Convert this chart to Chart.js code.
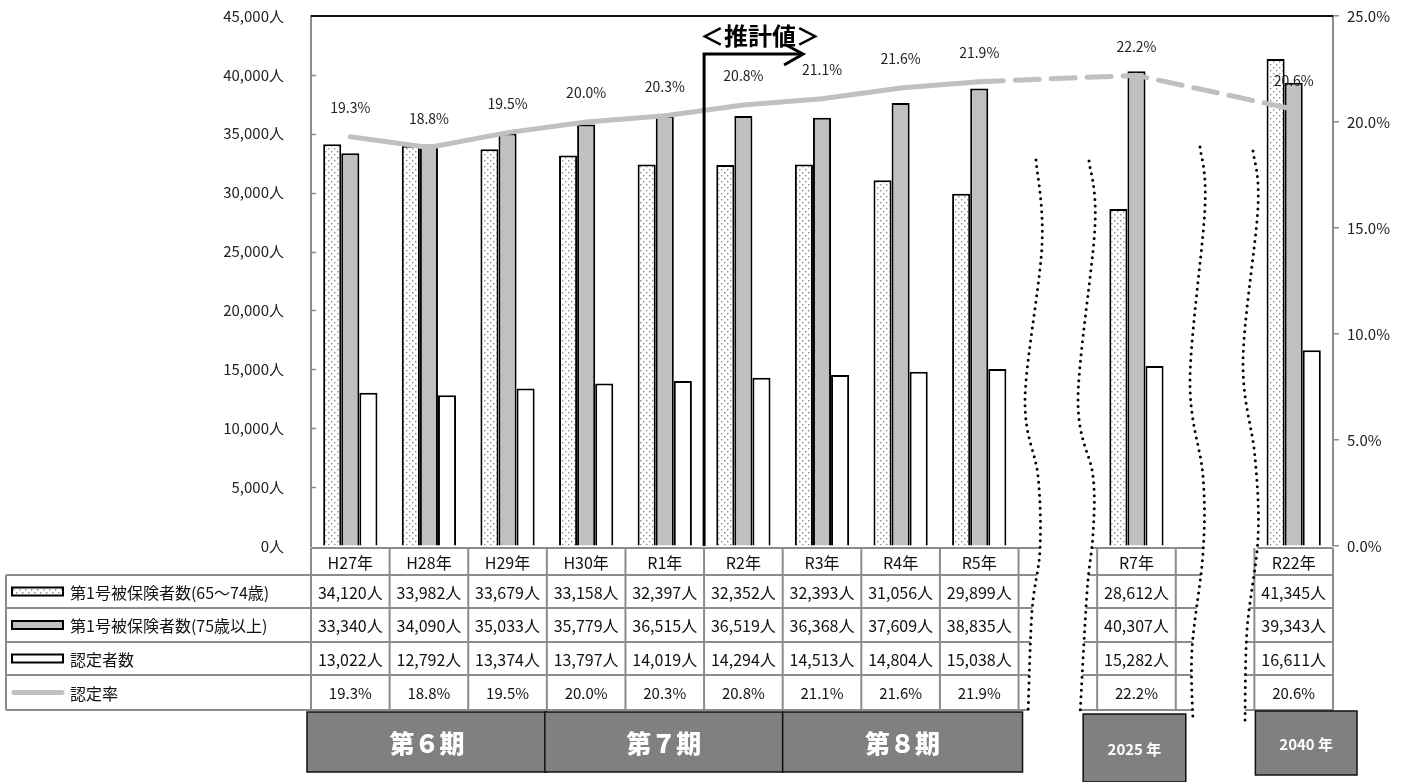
<!DOCTYPE html>
<html lang="ja">
<head>
<meta charset="utf-8">
<title>第1号被保険者数・認定者数・認定率の推移</title>
<script src="https://cdn.jsdelivr.net/npm/chart.js@4.4.1/dist/chart.umd.min.js"></script>
<style>
  html, body { margin: 0; padding: 0; background: #fff; }
  #wrap { width: 1403px; height: 782px; position: relative; }
</style>
</head>
<body>
<div id="wrap"><canvas id="kaigoChart"></canvas></div>
<script>
// data
const categories = ['H27年', 'H28年', 'H29年', 'H30年', 'R1年', 'R2年', 'R3年', 'R4年', 'R5年', '', 'R7年', '', 'R22年'];
const seriesNames = ['第1号被保険者数(65～74歳)', '第1号被保険者数(75歳以上)', '認定者数', '認定率'];
const age65to74 = [34120, 33982, 33679, 33158, 32397, 32352, 32393, 31056, 29899, null, 28612, null, 41345];
const age75plus = [33340, 34090, 35033, 35779, 36515, 36519, 36368, 37609, 38835, null, 40307, null, 39343];
const certified = [13022, 12792, 13374, 13797, 14019, 14294, 14513, 14804, 15038, null, 15282, null, 16611];
const certRate = [19.3, 18.8, 19.5, 20.0, 20.3, 20.8, 21.1, 21.6, 21.9, null, 22.2, null, 20.6];
const leftMax = 45000, leftStep = 5000;
const rightMax = 25, rightStep = 5;
const periodLabels = ['第６期', '第７期', '第８期', '2025 年', '2040 年'];
const periodFrom = [0, 3, 6, 10, 12];
const periodTo = [3, 6, 9, 11, 13];
const estimateLabel = '＜推計値＞';
const estimateFrom = 5; // first estimated category (R2)

const JP = '"Noto Sans CJK JP", "Noto Sans", sans-serif';
const GRID = '#8c8c8c';

// dotted fill for the 65-74 bars
const dotPattern = (() => {
  const c = document.createElement('canvas');
  c.width = 6; c.height = 6;
  const g = c.getContext('2d');
  g.fillStyle = '#fff';
  g.fillRect(0, 0, 6, 6);
  g.fillStyle = '#8a8a8a';
  g.fillRect(1, 1, 1.4, 1.4);
  g.fillRect(4, 4, 1.4, 1.4);
  return g.createPattern(c, 'repeat');
})();

function smoothPath(pts, steps) {
  const out = [];
  for (let i = 0; i < pts.length - 1; i++) {
    const p0 = pts[Math.max(i - 1, 0)], p1 = pts[i], p2 = pts[i + 1], p3 = pts[Math.min(i + 2, pts.length - 1)];
    for (let s = 0; s < steps; s++) {
      const t = s / steps, t2 = t * t, t3 = t2 * t;
      const f = (a, b, c, d) => 0.5 * (2 * b + (-a + c) * t + (2 * a - 5 * b + 4 * c - d) * t2 + (-a + 3 * b - 3 * c + d) * t3);
      out.push([f(p0[0], p1[0], p2[0], p3[0]), f(p0[1], p1[1], p2[1], p3[1])]);
    }
  }
  out.push(pts[pts.length - 1]);
  return out;
}

// wavy "omitted" marks
const breaks = [
  smoothPath([[1036, 160], [1042, 245], [1025, 399], [1038, 476], [1040, 549], [1032, 611], [1028, 715]], 20),
  smoothPath([[1089, 161], [1095, 226], [1078, 399], [1093, 476], [1093, 534], [1087, 592], [1080, 715]], 20),
  smoothPath([[1200, 147], [1205, 207], [1190, 380], [1203, 476], [1203, 553], [1192, 649], [1193, 722]], 20),
  smoothPath([[1253, 151], [1258, 207], [1243, 361], [1255, 457], [1258, 538], [1247, 630], [1245, 724]], 20)
];

const fmtNum = v => v.toLocaleString('en-US') + '人';

const extras = {
  id: 'extras',
  beforeDatasetsDraw(chart) {
    const { ctx, chartArea: a, scales: { y } } = chart;
    ctx.save();
    // top frame line
    ctx.strokeStyle = '#111';
    ctx.lineWidth = 2;
    ctx.beginPath();
    ctx.moveTo(a.left, a.top);
    ctx.lineTo(a.right, a.top);
    ctx.stroke();
    // inner ticks on left axis
    ctx.strokeStyle = GRID;
    ctx.lineWidth = 1.5;
    for (let v = leftStep; v < leftMax; v += leftStep) {
      const py = Math.round(y.getPixelForValue(v)) + 0.5;
      ctx.beginPath();
      ctx.moveTo(a.left, py);
      ctx.lineTo(a.left + 5, py);
      ctx.stroke();
    }
    ctx.restore();
  },
  afterDatasetsDraw(chart) {
    const { ctx } = chart;
    const meta = chart.getDatasetMeta(0);
    ctx.save();
    ctx.font = '14px ' + JP;
    ctx.fillStyle = '#222';
    ctx.textAlign = 'center';
    ctx.textBaseline = 'middle';
    meta.data.forEach((pt, i) => {
      if (certRate[i] == null) return;
      ctx.fillText(certRate[i].toFixed(1) + '%', pt.x, pt.y - 29);
    });
    ctx.restore();
  },
  afterDraw(chart) {
    const { ctx, chartArea: a } = chart;
    const colW = a.width / categories.length;
    const colX = k => a.left + k * colW;
    const rowY = [a.bottom + 2, a.bottom + 29, a.bottom + 62, a.bottom + 96, a.bottom + 129, a.bottom + 164];
    const legLeft = 6;
    ctx.save();

    // horizontal table lines
    ctx.strokeStyle = GRID;
    ctx.lineWidth = 2;
    rowY.forEach((yy, r) => {
      ctx.beginPath();
      ctx.moveTo(r === 0 ? a.left : legLeft, yy);
      ctx.lineTo(a.right, yy);
      ctx.stroke();
    });

    // cut the table where the wavy marks are
    ctx.save();
    ctx.beginPath();
    ctx.rect(0, a.bottom + 1, chart.width, rowY[5] - a.bottom + 4);
    ctx.clip();
    ctx.fillStyle = '#fff';
    [[0, 1], [2, 3]].forEach(([p, q]) => {
      ctx.beginPath();
      breaks[p].forEach(([px, py], i) => (i ? ctx.lineTo(px, py) : ctx.moveTo(px, py)));
      breaks[q].slice().reverse().forEach(([px, py]) => ctx.lineTo(px, py));
      ctx.closePath();
      ctx.fill();
    });
    ctx.restore();

    // vertical table lines
    ctx.beginPath();
    ctx.moveTo(legLeft, rowY[1]);
    ctx.lineTo(legLeft, rowY[5]);
    for (let k = 0; k <= categories.length; k++) {
      ctx.moveTo(colX(k), rowY[0]);
      ctx.lineTo(colX(k), rowY[5]);
    }
    ctx.stroke();

    // table text
    ctx.fillStyle = '#111';
    ctx.textAlign = 'center';
    ctx.textBaseline = 'middle';
    const rows = [
      categories,
      age65to74.map(v => (v == null ? '' : fmtNum(v))),
      age75plus.map(v => (v == null ? '' : fmtNum(v))),
      certified.map(v => (v == null ? '' : fmtNum(v))),
      certRate.map(v => (v == null ? '' : v.toFixed(1) + '%'))
    ];
    rows.forEach((row, r) => {
      const cy = (rowY[r] + rowY[r + 1]) / 2 + 1;
      ctx.font = (r === 4 ? '15px ' : '16px ') + JP;
      row.forEach((txt, k) => {
        if (txt) ctx.fillText(txt, colX(k) + colW / 2, cy);
      });
    });

    // legend column
    ctx.textAlign = 'left';
    ctx.font = '16px ' + JP;
    const fills = [dotPattern, '#c0c0c0', '#fff'];
    for (let r = 1; r <= 4; r++) {
      const cy = (rowY[r] + rowY[r + 1]) / 2;
      if (r < 4) {
        ctx.fillStyle = fills[r - 1];
        ctx.fillRect(12, cy - 4, 51, 8);
        ctx.strokeStyle = '#000';
        ctx.lineWidth = 2;
        ctx.strokeRect(12, cy - 4, 51, 8);
      } else {
        ctx.strokeStyle = '#c0c0c0';
        ctx.lineWidth = 5;
        ctx.lineCap = 'round';
        ctx.beginPath();
        ctx.moveTo(14, cy);
        ctx.lineTo(62, cy);
        ctx.stroke();
        ctx.lineCap = 'butt';
      }
      ctx.fillStyle = '#111';
      ctx.fillText(seriesNames[r - 1], 70, cy + 1);
    }

    // wavy dotted marks
    ctx.strokeStyle = '#000';
    ctx.lineWidth = 3;
    ctx.lineCap = 'round';
    ctx.setLineDash([0, 6.5]);
    breaks.forEach(pts => {
      ctx.beginPath();
      pts.forEach(([px, py], i) => (i ? ctx.lineTo(px, py) : ctx.moveTo(px, py)));
      ctx.stroke();
    });
    ctx.setLineDash([]);
    ctx.lineCap = 'butt';

    // period boxes
    const boxAdj = [[-4, 0, 712, 772], [-2, 0, 712, 772], [0, 4, 712, 772], [-14, 10, 714, 782], [1, 24, 711, 775]];
    periodLabels.forEach((lab, i) => {
      const [dl, dr, t, b] = boxAdj[i];
      const l = colX(periodFrom[i]) + dl, rr = colX(periodTo[i]) + dr;
      ctx.fillStyle = '#808080';
      ctx.fillRect(l, t, rr - l, b - t);
      ctx.strokeStyle = '#111';
      ctx.lineWidth = 1.5;
      ctx.strokeRect(l, t, rr - l, b - t);
      ctx.fillStyle = '#fff';
      ctx.textAlign = 'center';
      ctx.textBaseline = 'middle';
      ctx.font = i < 3 ? '900 25px ' + JP : 'bold 15px ' + JP;
      ctx.fillText(lab, (l + rr) / 2, (t + b) / 2 + 1);
    });

    // estimate arrow
    const ax = colX(estimateFrom);
    ctx.strokeStyle = '#000';
    ctx.lineWidth = 3;
    ctx.lineJoin = 'miter';
    ctx.beginPath();
    ctx.moveTo(ax, a.bottom);
    ctx.lineTo(ax, a.top + 38);
    ctx.lineTo(ax + 98, a.top + 38);
    ctx.stroke();
    ctx.beginPath();
    ctx.moveTo(ax + 80, a.top + 28);
    ctx.lineTo(ax + 99, a.top + 38);
    ctx.lineTo(ax + 80, a.top + 49);
    ctx.stroke();
    ctx.fillStyle = '#000';
    ctx.font = 'bold 24px ' + JP;
    ctx.textAlign = 'center';
    ctx.textBaseline = 'middle';
    ctx.fillText(estimateLabel, ax + 56, a.top + 20);

    ctx.restore();
  }
};

const barCommon = { borderColor: '#000', borderWidth: 2, yAxisID: 'y', order: 1 };

// keep the plot top at the layout padding, not pushed by tick padding
const fixAxis = w => s => {
  s.width = w;
  s.paddingTop = 0;
  s.paddingBottom = 0;
};

new Chart(document.getElementById('kaigoChart'), {
  type: 'bar',
  data: {
    labels: categories,
    datasets: [
      {
        type: 'line',
        label: seriesNames[3],
        data: certRate,
        yAxisID: 'y1',
        order: 0,
        borderColor: '#c0c0c0',
        borderWidth: 5,
        borderCapStyle: 'round',
        pointRadius: 0,
        spanGaps: true,
        tension: 0,
        segment: { borderDash: c => (c.p0DataIndex >= 8 ? [24, 12] : undefined) }
      },
      Object.assign({ label: seriesNames[0], data: age65to74, backgroundColor: dotPattern }, barCommon),
      Object.assign({ label: seriesNames[1], data: age75plus, backgroundColor: '#c0c0c0' }, barCommon),
      Object.assign({ label: seriesNames[2], data: certified, backgroundColor: '#fff' }, barCommon)
    ]
  },
  options: {
    responsive: true,
    maintainAspectRatio: false,
    animation: false,
    layout: { padding: { top: 16, bottom: 236, left: 0, right: 0 } },
    datasets: { bar: { categoryPercentage: 0.69, barPercentage: 1 } },
    plugins: { legend: { display: false }, tooltip: { enabled: false } },
    scales: {
      x: { display: false },
      y: {
        position: 'left',
        min: 0,
        max: leftMax,
        ticks: {
          stepSize: leftStep,
          padding: 27,
          color: '#222',
          font: { family: JP, size: 15 },
          callback: v => fmtNum(v)
        },
        grid: { drawOnChartArea: false, drawTicks: false },
        border: { color: GRID, width: 2 },
        afterFit: fixAxis(311)
      },
      y1: {
        position: 'right',
        min: 0,
        max: rightMax,
        ticks: {
          stepSize: rightStep,
          padding: 8,
          color: '#222',
          font: { family: JP, size: 15 },
          callback: v => v.toFixed(1) + '%'
        },
        grid: { drawOnChartArea: false, tickLength: 6, color: GRID, lineWidth: 1.5 },
        border: { color: GRID, width: 2 },
        afterFit: fixAxis(70)
      }
    }
  },
  plugins: [extras]
});
</script>
</body>
</html>
